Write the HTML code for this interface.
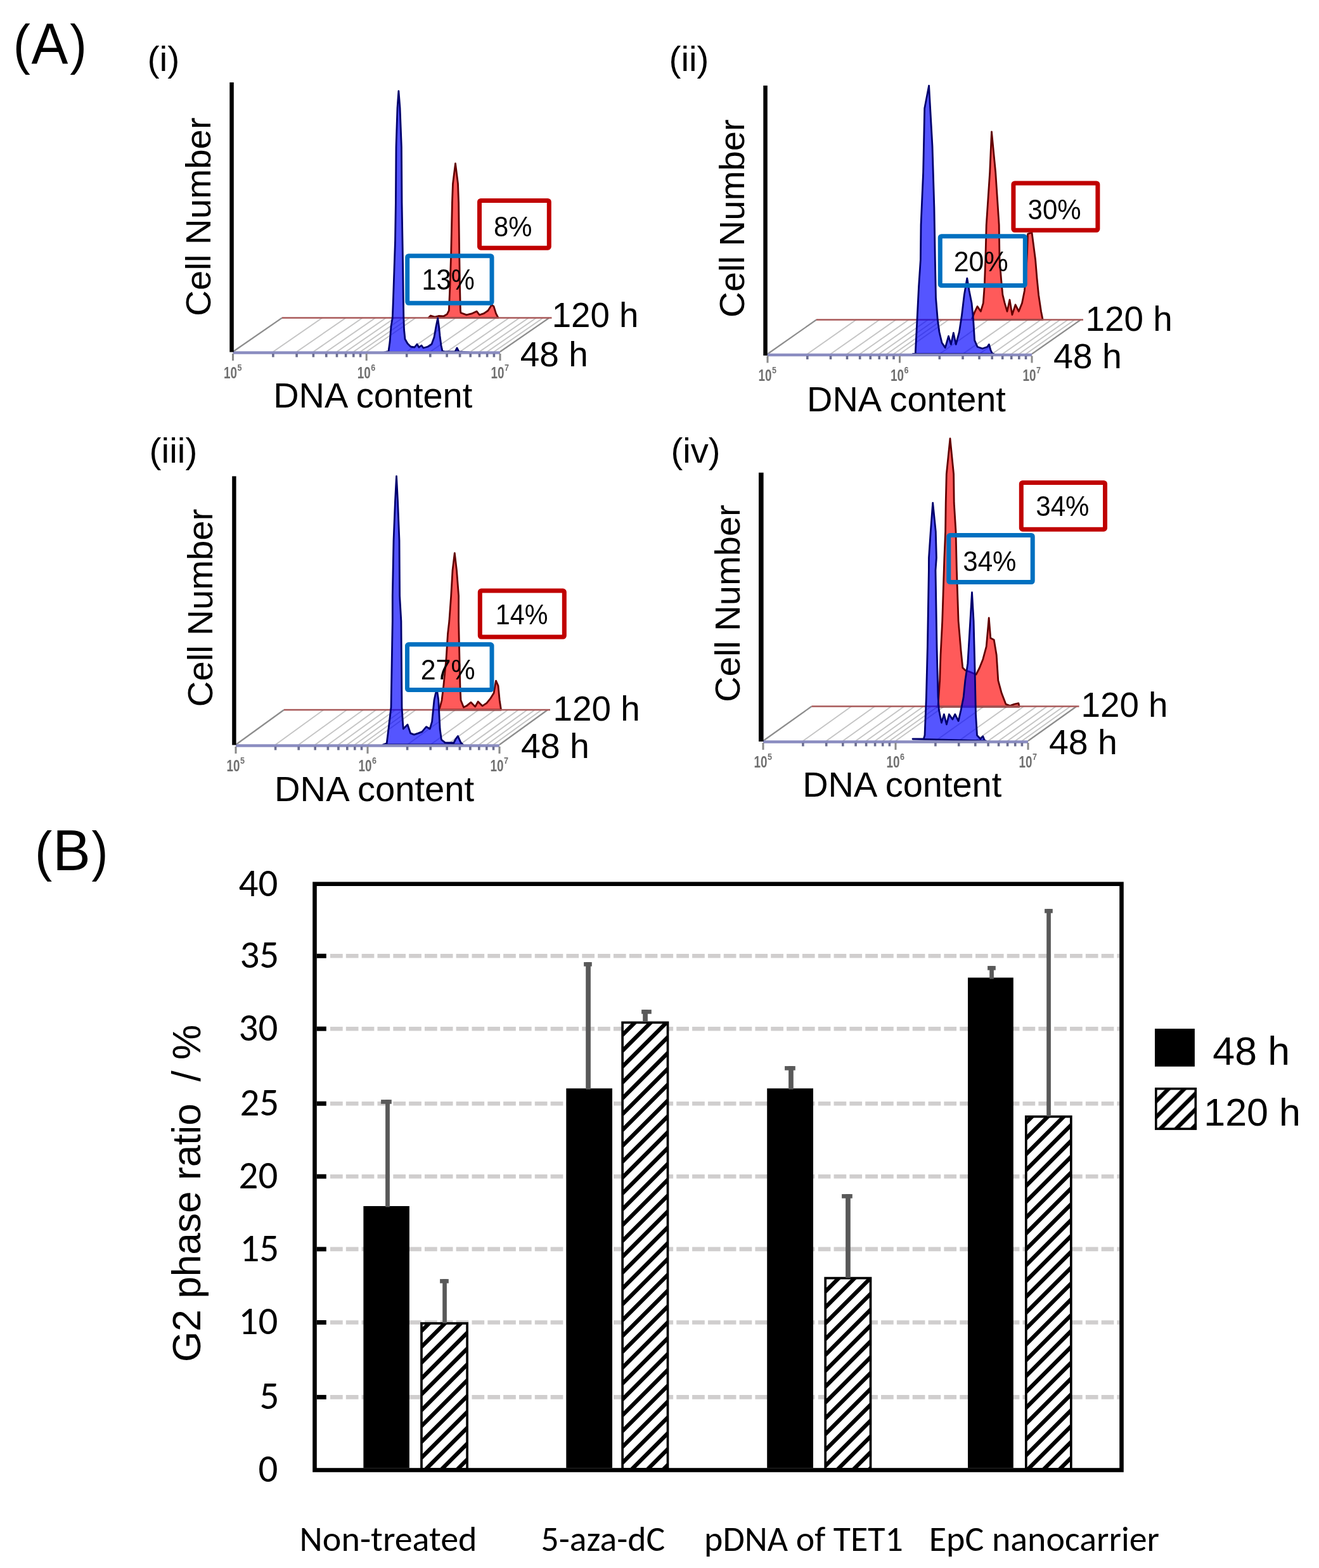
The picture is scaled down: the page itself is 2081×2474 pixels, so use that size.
<!DOCTYPE html>
<html><head><meta charset="utf-8"><title>Figure</title>
<style>html,body{margin:0;padding:0;background:#fff;}svg{display:block;}</style></head>
<body><svg width="2081" height="2474" viewBox="0 0 2081 2474">
<rect x="0" y="0" width="2081" height="2474" fill="#fff"/>
<text transform="translate(0 99.8) scale(1 1.0642)" x="20.8" y="0" font-family="'Liberation Sans', Arial, Helvetica, sans-serif" font-size="81.52" fill="#000">(</text>
<text transform="translate(0 99.8) scale(1 1.0541)" x="49.5" y="0" font-family="'Liberation Sans', Arial, Helvetica, sans-serif" font-size="86.79" fill="#000">A</text>
<text transform="translate(0 99.8) scale(1 1.0845)" x="110.2" y="0" font-family="'Liberation Sans', Arial, Helvetica, sans-serif" font-size="80.00" fill="#000">)</text>
<text x="232.5" y="111.9" font-family="'Liberation Sans', Arial, Helvetica, sans-serif" font-size="54.69" fill="#000" textLength="51.0" lengthAdjust="spacingAndGlyphs">(i)</text>
<text x="1055.6" y="111.7" font-family="'Liberation Sans', Arial, Helvetica, sans-serif" font-size="54.58" fill="#000" textLength="62.9" lengthAdjust="spacingAndGlyphs">(ii)</text>
<text x="235.6" y="729.9" font-family="'Liberation Sans', Arial, Helvetica, sans-serif" font-size="54.69" fill="#000" textLength="75.8" lengthAdjust="spacingAndGlyphs">(iii)</text>
<text x="1058.5" y="729.9" font-family="'Liberation Sans', Arial, Helvetica, sans-serif" font-size="54.69" fill="#000" textLength="78.0" lengthAdjust="spacingAndGlyphs">(iv)</text>
<line x1="430.9" y1="555.0" x2="508.4" y2="501.5" stroke="#c4c4c4" stroke-width="1.9"/>
<line x1="468.1" y1="555.0" x2="545.6" y2="501.5" stroke="#c4c4c4" stroke-width="1.9"/>
<line x1="494.4" y1="555.0" x2="571.9" y2="501.5" stroke="#c4c4c4" stroke-width="1.9"/>
<line x1="514.8" y1="555.0" x2="592.3" y2="501.5" stroke="#c4c4c4" stroke-width="1.9"/>
<line x1="531.5" y1="555.0" x2="609.0" y2="501.5" stroke="#c4c4c4" stroke-width="1.9"/>
<line x1="545.6" y1="555.0" x2="623.1" y2="501.5" stroke="#c4c4c4" stroke-width="1.9"/>
<line x1="557.8" y1="555.0" x2="635.3" y2="501.5" stroke="#c4c4c4" stroke-width="1.9"/>
<line x1="568.6" y1="555.0" x2="646.1" y2="501.5" stroke="#c4c4c4" stroke-width="1.9"/>
<line x1="578.2" y1="555.0" x2="655.8" y2="501.5" stroke="#c4c4c4" stroke-width="1.9"/>
<line x1="641.7" y1="555.0" x2="719.2" y2="501.5" stroke="#c4c4c4" stroke-width="1.9"/>
<line x1="678.8" y1="555.0" x2="756.3" y2="501.5" stroke="#c4c4c4" stroke-width="1.9"/>
<line x1="705.1" y1="555.0" x2="782.6" y2="501.5" stroke="#c4c4c4" stroke-width="1.9"/>
<line x1="725.6" y1="555.0" x2="803.1" y2="501.5" stroke="#c4c4c4" stroke-width="1.9"/>
<line x1="742.2" y1="555.0" x2="819.7" y2="501.5" stroke="#c4c4c4" stroke-width="1.9"/>
<line x1="756.4" y1="555.0" x2="833.9" y2="501.5" stroke="#c4c4c4" stroke-width="1.9"/>
<line x1="768.6" y1="555.0" x2="846.1" y2="501.5" stroke="#c4c4c4" stroke-width="1.9"/>
<line x1="779.4" y1="555.0" x2="856.9" y2="501.5" stroke="#c4c4c4" stroke-width="1.9"/>
<line x1="367.5" y1="555.0" x2="445.0" y2="501.5" stroke="#8c8c8c" stroke-width="2.2"/>
<line x1="789.0" y1="555.0" x2="866.5" y2="501.5" stroke="#8c8c8c" stroke-width="2.2"/>
<path d="M676.0,501.4 L679.4,498.0 L686.0,500.0 L692.0,498.5 L699.8,499.0 L705.4,495.7 L708.3,490.0 L710.0,450.0 L711.7,399.4 L713.4,320.0 L714.5,290.0 L718.5,258.0 L722.5,290.0 L723.6,320.0 L724.7,399.4 L725.5,450.0 L726.4,490.0 L727.0,493.5 L736.0,496.9 L745.0,494.6 L752.0,491.2 L756.5,496.9 L763.3,494.6 L770.0,490.0 L775.7,481.0 L779.0,483.3 L782.5,494.6 L786.0,501.4 Z" fill="#ff5a5a" stroke="#640000" stroke-width="2.8" stroke-linejoin="round"/>
<line x1="445.0" y1="501.5" x2="870.5" y2="501.5" stroke="#a85858" stroke-width="2.6"/>
<path d="M606.0,556.0 L613.0,554.0 L615.0,540.0 L617.0,515.0 L619.3,501.0 L620.5,470.0 L622.1,422.0 L623.5,380.0 L624.4,320.0 L625.0,232.0 L627.0,170.0 L628.9,143.6 L631.0,170.0 L633.4,232.0 L634.0,320.0 L635.0,380.0 L635.7,422.0 L636.3,470.0 L636.8,501.0 L637.5,520.0 L639.0,535.0 L643.0,542.0 L648.0,547.0 L654.0,548.0 L658.0,543.0 L661.0,548.0 L665.0,545.0 L668.0,549.0 L675.0,547.0 L681.0,543.0 L685.0,532.0 L688.0,515.0 L690.7,502.0 L692.5,515.0 L694.0,530.0 L696.0,545.0 L698.0,554.0 L703.0,555.0 L718.0,555.0 L721.0,549.0 L724.0,555.0 L740.0,556.0 Z" fill="#0000ff" stroke="#00006e" stroke-width="2.8" stroke-linejoin="round" fill-opacity="0.667"/>
<line x1="367.5" y1="556.5" x2="789.0" y2="556.5" stroke="#8a8cc0" stroke-width="4.5"/>
<line x1="367.5" y1="558.0" x2="367.5" y2="569.0" stroke="#8a8a8a" stroke-width="3"/>
<line x1="430.9" y1="558.0" x2="430.9" y2="563.5" stroke="#6c6e90" stroke-width="3.6"/>
<line x1="468.1" y1="558.0" x2="468.1" y2="563.5" stroke="#6c6e90" stroke-width="3.6"/>
<line x1="494.4" y1="558.0" x2="494.4" y2="563.5" stroke="#6c6e90" stroke-width="3.6"/>
<line x1="514.8" y1="558.0" x2="514.8" y2="563.5" stroke="#6c6e90" stroke-width="3.6"/>
<line x1="531.5" y1="558.0" x2="531.5" y2="563.5" stroke="#6c6e90" stroke-width="3.6"/>
<line x1="545.6" y1="558.0" x2="545.6" y2="563.5" stroke="#6c6e90" stroke-width="3.6"/>
<line x1="557.8" y1="558.0" x2="557.8" y2="563.5" stroke="#6c6e90" stroke-width="3.6"/>
<line x1="568.6" y1="558.0" x2="568.6" y2="563.5" stroke="#6c6e90" stroke-width="3.6"/>
<line x1="578.2" y1="558.0" x2="578.2" y2="569.0" stroke="#8a8a8a" stroke-width="3"/>
<line x1="641.7" y1="558.0" x2="641.7" y2="563.5" stroke="#6c6e90" stroke-width="3.6"/>
<line x1="678.8" y1="558.0" x2="678.8" y2="563.5" stroke="#6c6e90" stroke-width="3.6"/>
<line x1="705.1" y1="558.0" x2="705.1" y2="563.5" stroke="#6c6e90" stroke-width="3.6"/>
<line x1="725.6" y1="558.0" x2="725.6" y2="563.5" stroke="#6c6e90" stroke-width="3.6"/>
<line x1="742.2" y1="558.0" x2="742.2" y2="563.5" stroke="#6c6e90" stroke-width="3.6"/>
<line x1="756.4" y1="558.0" x2="756.4" y2="563.5" stroke="#6c6e90" stroke-width="3.6"/>
<line x1="768.6" y1="558.0" x2="768.6" y2="563.5" stroke="#6c6e90" stroke-width="3.6"/>
<line x1="779.4" y1="558.0" x2="779.4" y2="563.5" stroke="#6c6e90" stroke-width="3.6"/>
<line x1="789.0" y1="558.0" x2="789.0" y2="569.0" stroke="#8a8a8a" stroke-width="3"/>
<text x="353.0" y="597.0" font-family="'Liberation Sans', Arial, Helvetica, sans-serif" font-size="26" font-weight="bold" fill="#707070" textLength="21" lengthAdjust="spacingAndGlyphs">10</text>
<text x="374.5" y="585.0" font-family="'Liberation Sans', Arial, Helvetica, sans-serif" font-size="14" font-weight="bold" fill="#707070" textLength="7" lengthAdjust="spacingAndGlyphs">5</text>
<text x="563.8" y="597.0" font-family="'Liberation Sans', Arial, Helvetica, sans-serif" font-size="26" font-weight="bold" fill="#707070" textLength="21" lengthAdjust="spacingAndGlyphs">10</text>
<text x="585.2" y="585.0" font-family="'Liberation Sans', Arial, Helvetica, sans-serif" font-size="14" font-weight="bold" fill="#707070" textLength="7" lengthAdjust="spacingAndGlyphs">6</text>
<text x="774.5" y="597.0" font-family="'Liberation Sans', Arial, Helvetica, sans-serif" font-size="26" font-weight="bold" fill="#707070" textLength="21" lengthAdjust="spacingAndGlyphs">10</text>
<text x="796.0" y="585.0" font-family="'Liberation Sans', Arial, Helvetica, sans-serif" font-size="14" font-weight="bold" fill="#707070" textLength="7" lengthAdjust="spacingAndGlyphs">7</text>
<rect x="362.3" y="130.0" width="6.5" height="425.5" fill="#000"/>
<rect x="756.5" y="316.5" width="109.8" height="74.7" rx="2" fill="none" stroke="#c00000" stroke-width="7"/>
<rect x="642.7" y="403.7" width="133.3" height="74.6" rx="2" fill="none" stroke="#0070c0" stroke-width="7"/>
<line x1="1273.8" y1="558.5" x2="1350.8" y2="504.5" stroke="#c4c4c4" stroke-width="1.9"/>
<line x1="1310.5" y1="558.5" x2="1387.5" y2="504.5" stroke="#c4c4c4" stroke-width="1.9"/>
<line x1="1336.5" y1="558.5" x2="1413.5" y2="504.5" stroke="#c4c4c4" stroke-width="1.9"/>
<line x1="1356.7" y1="558.5" x2="1433.7" y2="504.5" stroke="#c4c4c4" stroke-width="1.9"/>
<line x1="1373.2" y1="558.5" x2="1450.2" y2="504.5" stroke="#c4c4c4" stroke-width="1.9"/>
<line x1="1387.2" y1="558.5" x2="1464.2" y2="504.5" stroke="#c4c4c4" stroke-width="1.9"/>
<line x1="1399.3" y1="558.5" x2="1476.3" y2="504.5" stroke="#c4c4c4" stroke-width="1.9"/>
<line x1="1410.0" y1="558.5" x2="1487.0" y2="504.5" stroke="#c4c4c4" stroke-width="1.9"/>
<line x1="1419.5" y1="558.5" x2="1496.5" y2="504.5" stroke="#c4c4c4" stroke-width="1.9"/>
<line x1="1482.3" y1="558.5" x2="1559.3" y2="504.5" stroke="#c4c4c4" stroke-width="1.9"/>
<line x1="1519.0" y1="558.5" x2="1596.0" y2="504.5" stroke="#c4c4c4" stroke-width="1.9"/>
<line x1="1545.0" y1="558.5" x2="1622.0" y2="504.5" stroke="#c4c4c4" stroke-width="1.9"/>
<line x1="1565.2" y1="558.5" x2="1642.2" y2="504.5" stroke="#c4c4c4" stroke-width="1.9"/>
<line x1="1581.7" y1="558.5" x2="1658.7" y2="504.5" stroke="#c4c4c4" stroke-width="1.9"/>
<line x1="1595.7" y1="558.5" x2="1672.7" y2="504.5" stroke="#c4c4c4" stroke-width="1.9"/>
<line x1="1607.8" y1="558.5" x2="1684.8" y2="504.5" stroke="#c4c4c4" stroke-width="1.9"/>
<line x1="1618.5" y1="558.5" x2="1695.5" y2="504.5" stroke="#c4c4c4" stroke-width="1.9"/>
<line x1="1211.0" y1="558.5" x2="1288.0" y2="504.5" stroke="#8c8c8c" stroke-width="2.2"/>
<line x1="1628.0" y1="558.5" x2="1705.0" y2="504.5" stroke="#8c8c8c" stroke-width="2.2"/>
<path d="M1533.0,504.3 L1538.2,491.3 L1542.1,483.4 L1547.3,491.3 L1551.3,478.2 L1553.2,452.2 L1554.8,410.0 L1556.2,355.0 L1561.7,272.0 L1564.5,207.8 L1570.7,272.0 L1576.2,355.0 L1577.0,410.0 L1579.5,440.0 L1581.9,465.2 L1585.1,478.2 L1589.0,491.3 L1593.0,473.0 L1596.9,496.5 L1602.1,480.8 L1607.3,491.3 L1612.5,478.2 L1616.4,458.7 L1619.0,426.0 L1620.5,400.0 L1621.5,369.0 L1628.0,367.0 L1633.6,410.0 L1636.0,439.0 L1638.6,465.2 L1642.5,491.3 L1645.1,504.3 Z" fill="#ff5a5a" stroke="#640000" stroke-width="2.8" stroke-linejoin="round"/>
<line x1="1288.0" y1="504.5" x2="1709.0" y2="504.5" stroke="#a85858" stroke-width="2.6"/>
<path d="M1440.0,558.5 L1444.3,557.0 L1447.0,504.0 L1449.6,452.0 L1452.4,410.0 L1453.0,355.0 L1456.6,272.0 L1458.7,171.0 L1465.6,135.2 L1471.0,230.6 L1473.9,327.5 L1475.3,410.0 L1476.5,470.0 L1479.3,504.3 L1482.0,524.0 L1486.0,540.8 L1491.3,548.6 L1496.5,530.4 L1500.4,543.4 L1504.3,525.2 L1508.2,543.4 L1513.4,523.9 L1517.4,497.8 L1521.3,465.2 L1525.8,439.1 L1529.1,458.7 L1533.0,478.2 L1535.6,504.3 L1537.6,536.9 L1542.1,547.3 L1550.0,550.0 L1557.8,547.3 L1560.4,543.4 L1563.0,552.5 L1565.6,557.8 L1568.0,558.5 Z" fill="#0000ff" stroke="#00006e" stroke-width="2.8" stroke-linejoin="round" fill-opacity="0.667"/>
<line x1="1211.0" y1="560.0" x2="1628.0" y2="560.0" stroke="#8a8cc0" stroke-width="4.5"/>
<line x1="1211.0" y1="561.5" x2="1211.0" y2="572.5" stroke="#8a8a8a" stroke-width="3"/>
<line x1="1273.8" y1="561.5" x2="1273.8" y2="567.0" stroke="#6c6e90" stroke-width="3.6"/>
<line x1="1310.5" y1="561.5" x2="1310.5" y2="567.0" stroke="#6c6e90" stroke-width="3.6"/>
<line x1="1336.5" y1="561.5" x2="1336.5" y2="567.0" stroke="#6c6e90" stroke-width="3.6"/>
<line x1="1356.7" y1="561.5" x2="1356.7" y2="567.0" stroke="#6c6e90" stroke-width="3.6"/>
<line x1="1373.2" y1="561.5" x2="1373.2" y2="567.0" stroke="#6c6e90" stroke-width="3.6"/>
<line x1="1387.2" y1="561.5" x2="1387.2" y2="567.0" stroke="#6c6e90" stroke-width="3.6"/>
<line x1="1399.3" y1="561.5" x2="1399.3" y2="567.0" stroke="#6c6e90" stroke-width="3.6"/>
<line x1="1410.0" y1="561.5" x2="1410.0" y2="567.0" stroke="#6c6e90" stroke-width="3.6"/>
<line x1="1419.5" y1="561.5" x2="1419.5" y2="572.5" stroke="#8a8a8a" stroke-width="3"/>
<line x1="1482.3" y1="561.5" x2="1482.3" y2="567.0" stroke="#6c6e90" stroke-width="3.6"/>
<line x1="1519.0" y1="561.5" x2="1519.0" y2="567.0" stroke="#6c6e90" stroke-width="3.6"/>
<line x1="1545.0" y1="561.5" x2="1545.0" y2="567.0" stroke="#6c6e90" stroke-width="3.6"/>
<line x1="1565.2" y1="561.5" x2="1565.2" y2="567.0" stroke="#6c6e90" stroke-width="3.6"/>
<line x1="1581.7" y1="561.5" x2="1581.7" y2="567.0" stroke="#6c6e90" stroke-width="3.6"/>
<line x1="1595.7" y1="561.5" x2="1595.7" y2="567.0" stroke="#6c6e90" stroke-width="3.6"/>
<line x1="1607.8" y1="561.5" x2="1607.8" y2="567.0" stroke="#6c6e90" stroke-width="3.6"/>
<line x1="1618.5" y1="561.5" x2="1618.5" y2="567.0" stroke="#6c6e90" stroke-width="3.6"/>
<line x1="1628.0" y1="561.5" x2="1628.0" y2="572.5" stroke="#8a8a8a" stroke-width="3"/>
<text x="1196.5" y="600.5" font-family="'Liberation Sans', Arial, Helvetica, sans-serif" font-size="26" font-weight="bold" fill="#707070" textLength="21" lengthAdjust="spacingAndGlyphs">10</text>
<text x="1218.0" y="588.5" font-family="'Liberation Sans', Arial, Helvetica, sans-serif" font-size="14" font-weight="bold" fill="#707070" textLength="7" lengthAdjust="spacingAndGlyphs">5</text>
<text x="1405.0" y="600.5" font-family="'Liberation Sans', Arial, Helvetica, sans-serif" font-size="26" font-weight="bold" fill="#707070" textLength="21" lengthAdjust="spacingAndGlyphs">10</text>
<text x="1426.5" y="588.5" font-family="'Liberation Sans', Arial, Helvetica, sans-serif" font-size="14" font-weight="bold" fill="#707070" textLength="7" lengthAdjust="spacingAndGlyphs">6</text>
<text x="1613.5" y="600.5" font-family="'Liberation Sans', Arial, Helvetica, sans-serif" font-size="26" font-weight="bold" fill="#707070" textLength="21" lengthAdjust="spacingAndGlyphs">10</text>
<text x="1635.0" y="588.5" font-family="'Liberation Sans', Arial, Helvetica, sans-serif" font-size="14" font-weight="bold" fill="#707070" textLength="7" lengthAdjust="spacingAndGlyphs">7</text>
<rect x="1204.3" y="135.0" width="6.5" height="426.0" fill="#000"/>
<rect x="1598.9" y="288.9" width="133.0" height="74.4" rx="2" fill="none" stroke="#c00000" stroke-width="7"/>
<rect x="1483.3" y="372.7" width="134.0" height="77.9" rx="2" fill="none" stroke="#0070c0" stroke-width="7"/>
<line x1="434.6" y1="1175.0" x2="510.6" y2="1120.0" stroke="#c4c4c4" stroke-width="1.9"/>
<line x1="471.2" y1="1175.0" x2="547.2" y2="1120.0" stroke="#c4c4c4" stroke-width="1.9"/>
<line x1="497.2" y1="1175.0" x2="573.2" y2="1120.0" stroke="#c4c4c4" stroke-width="1.9"/>
<line x1="517.4" y1="1175.0" x2="593.4" y2="1120.0" stroke="#c4c4c4" stroke-width="1.9"/>
<line x1="533.9" y1="1175.0" x2="609.9" y2="1120.0" stroke="#c4c4c4" stroke-width="1.9"/>
<line x1="547.8" y1="1175.0" x2="623.8" y2="1120.0" stroke="#c4c4c4" stroke-width="1.9"/>
<line x1="559.8" y1="1175.0" x2="635.8" y2="1120.0" stroke="#c4c4c4" stroke-width="1.9"/>
<line x1="570.5" y1="1175.0" x2="646.5" y2="1120.0" stroke="#c4c4c4" stroke-width="1.9"/>
<line x1="580.0" y1="1175.0" x2="656.0" y2="1120.0" stroke="#c4c4c4" stroke-width="1.9"/>
<line x1="642.6" y1="1175.0" x2="718.6" y2="1120.0" stroke="#c4c4c4" stroke-width="1.9"/>
<line x1="679.2" y1="1175.0" x2="755.2" y2="1120.0" stroke="#c4c4c4" stroke-width="1.9"/>
<line x1="705.2" y1="1175.0" x2="781.2" y2="1120.0" stroke="#c4c4c4" stroke-width="1.9"/>
<line x1="725.4" y1="1175.0" x2="801.4" y2="1120.0" stroke="#c4c4c4" stroke-width="1.9"/>
<line x1="741.9" y1="1175.0" x2="817.9" y2="1120.0" stroke="#c4c4c4" stroke-width="1.9"/>
<line x1="755.8" y1="1175.0" x2="831.8" y2="1120.0" stroke="#c4c4c4" stroke-width="1.9"/>
<line x1="767.8" y1="1175.0" x2="843.8" y2="1120.0" stroke="#c4c4c4" stroke-width="1.9"/>
<line x1="778.5" y1="1175.0" x2="854.5" y2="1120.0" stroke="#c4c4c4" stroke-width="1.9"/>
<line x1="372.0" y1="1175.0" x2="448.0" y2="1120.0" stroke="#8c8c8c" stroke-width="2.2"/>
<line x1="788.0" y1="1175.0" x2="864.0" y2="1120.0" stroke="#8c8c8c" stroke-width="2.2"/>
<path d="M692.0,1120.0 L694.1,1116.0 L697.0,1105.0 L699.8,1082.0 L704.0,1040.0 L706.5,1000.0 L708.8,980.0 L711.7,940.0 L714.0,900.0 L717.3,872.7 L720.5,900.0 L723.6,940.0 L723.6,980.0 L725.9,1082.0 L727.0,1104.7 L731.5,1116.0 L736.0,1113.8 L742.9,1108.1 L749.7,1115.0 L754.2,1107.0 L761.0,1113.8 L767.8,1109.3 L773.5,1102.4 L779.1,1093.4 L782.5,1074.1 L786.0,1082.0 L788.2,1104.7 L790.5,1120.0 Z" fill="#ff5a5a" stroke="#640000" stroke-width="2.8" stroke-linejoin="round"/>
<line x1="448.0" y1="1120.0" x2="868.0" y2="1120.0" stroke="#a85858" stroke-width="2.6"/>
<path d="M604.0,1175.0 L610.2,1172.7 L613.0,1150.0 L617.0,1116.0 L619.3,980.0 L619.3,940.0 L621.0,853.0 L623.5,790.0 L625.5,751.3 L627.5,790.0 L630.0,853.0 L630.6,940.0 L632.9,980.0 L634.0,1116.0 L635.5,1140.0 L636.3,1150.0 L643.0,1143.3 L647.6,1156.9 L653.3,1159.1 L660.0,1156.9 L665.8,1154.6 L672.6,1146.7 L678.2,1150.0 L681.6,1138.7 L685.0,1104.7 L687.3,1094.0 L689.5,1089.0 L691.8,1104.7 L694.1,1150.0 L696.4,1167.0 L702.0,1171.6 L716.0,1172.0 L719.0,1166.0 L722.4,1161.4 L727.0,1171.6 L730.4,1175.0 Z" fill="#0000ff" stroke="#00006e" stroke-width="2.8" stroke-linejoin="round" fill-opacity="0.667"/>
<line x1="372.0" y1="1176.5" x2="788.0" y2="1176.5" stroke="#8a8cc0" stroke-width="4.5"/>
<line x1="372.0" y1="1178.0" x2="372.0" y2="1189.0" stroke="#8a8a8a" stroke-width="3"/>
<line x1="434.6" y1="1178.0" x2="434.6" y2="1183.5" stroke="#6c6e90" stroke-width="3.6"/>
<line x1="471.2" y1="1178.0" x2="471.2" y2="1183.5" stroke="#6c6e90" stroke-width="3.6"/>
<line x1="497.2" y1="1178.0" x2="497.2" y2="1183.5" stroke="#6c6e90" stroke-width="3.6"/>
<line x1="517.4" y1="1178.0" x2="517.4" y2="1183.5" stroke="#6c6e90" stroke-width="3.6"/>
<line x1="533.9" y1="1178.0" x2="533.9" y2="1183.5" stroke="#6c6e90" stroke-width="3.6"/>
<line x1="547.8" y1="1178.0" x2="547.8" y2="1183.5" stroke="#6c6e90" stroke-width="3.6"/>
<line x1="559.8" y1="1178.0" x2="559.8" y2="1183.5" stroke="#6c6e90" stroke-width="3.6"/>
<line x1="570.5" y1="1178.0" x2="570.5" y2="1183.5" stroke="#6c6e90" stroke-width="3.6"/>
<line x1="580.0" y1="1178.0" x2="580.0" y2="1189.0" stroke="#8a8a8a" stroke-width="3"/>
<line x1="642.6" y1="1178.0" x2="642.6" y2="1183.5" stroke="#6c6e90" stroke-width="3.6"/>
<line x1="679.2" y1="1178.0" x2="679.2" y2="1183.5" stroke="#6c6e90" stroke-width="3.6"/>
<line x1="705.2" y1="1178.0" x2="705.2" y2="1183.5" stroke="#6c6e90" stroke-width="3.6"/>
<line x1="725.4" y1="1178.0" x2="725.4" y2="1183.5" stroke="#6c6e90" stroke-width="3.6"/>
<line x1="741.9" y1="1178.0" x2="741.9" y2="1183.5" stroke="#6c6e90" stroke-width="3.6"/>
<line x1="755.8" y1="1178.0" x2="755.8" y2="1183.5" stroke="#6c6e90" stroke-width="3.6"/>
<line x1="767.8" y1="1178.0" x2="767.8" y2="1183.5" stroke="#6c6e90" stroke-width="3.6"/>
<line x1="778.5" y1="1178.0" x2="778.5" y2="1183.5" stroke="#6c6e90" stroke-width="3.6"/>
<line x1="788.0" y1="1178.0" x2="788.0" y2="1189.0" stroke="#8a8a8a" stroke-width="3"/>
<text x="357.5" y="1217.0" font-family="'Liberation Sans', Arial, Helvetica, sans-serif" font-size="26" font-weight="bold" fill="#707070" textLength="21" lengthAdjust="spacingAndGlyphs">10</text>
<text x="379.0" y="1205.0" font-family="'Liberation Sans', Arial, Helvetica, sans-serif" font-size="14" font-weight="bold" fill="#707070" textLength="7" lengthAdjust="spacingAndGlyphs">5</text>
<text x="565.5" y="1217.0" font-family="'Liberation Sans', Arial, Helvetica, sans-serif" font-size="26" font-weight="bold" fill="#707070" textLength="21" lengthAdjust="spacingAndGlyphs">10</text>
<text x="587.0" y="1205.0" font-family="'Liberation Sans', Arial, Helvetica, sans-serif" font-size="14" font-weight="bold" fill="#707070" textLength="7" lengthAdjust="spacingAndGlyphs">6</text>
<text x="773.5" y="1217.0" font-family="'Liberation Sans', Arial, Helvetica, sans-serif" font-size="26" font-weight="bold" fill="#707070" textLength="21" lengthAdjust="spacingAndGlyphs">10</text>
<text x="795.0" y="1205.0" font-family="'Liberation Sans', Arial, Helvetica, sans-serif" font-size="14" font-weight="bold" fill="#707070" textLength="7" lengthAdjust="spacingAndGlyphs">7</text>
<rect x="366.2" y="751.4" width="6.4" height="424.1" fill="#000"/>
<rect x="757.3" y="932.1" width="133.0" height="73.0" rx="2" fill="none" stroke="#c00000" stroke-width="7"/>
<rect x="642.5" y="1016.8" width="133.5" height="71.7" rx="2" fill="none" stroke="#0070c0" stroke-width="7"/>
<line x1="1266.9" y1="1169.0" x2="1343.4" y2="1114.5" stroke="#c4c4c4" stroke-width="1.9"/>
<line x1="1303.7" y1="1169.0" x2="1380.2" y2="1114.5" stroke="#c4c4c4" stroke-width="1.9"/>
<line x1="1329.8" y1="1169.0" x2="1406.3" y2="1114.5" stroke="#c4c4c4" stroke-width="1.9"/>
<line x1="1350.1" y1="1169.0" x2="1426.6" y2="1114.5" stroke="#c4c4c4" stroke-width="1.9"/>
<line x1="1366.6" y1="1169.0" x2="1443.1" y2="1114.5" stroke="#c4c4c4" stroke-width="1.9"/>
<line x1="1380.6" y1="1169.0" x2="1457.1" y2="1114.5" stroke="#c4c4c4" stroke-width="1.9"/>
<line x1="1392.7" y1="1169.0" x2="1469.2" y2="1114.5" stroke="#c4c4c4" stroke-width="1.9"/>
<line x1="1403.4" y1="1169.0" x2="1479.9" y2="1114.5" stroke="#c4c4c4" stroke-width="1.9"/>
<line x1="1413.0" y1="1169.0" x2="1489.5" y2="1114.5" stroke="#c4c4c4" stroke-width="1.9"/>
<line x1="1475.9" y1="1169.0" x2="1552.4" y2="1114.5" stroke="#c4c4c4" stroke-width="1.9"/>
<line x1="1512.7" y1="1169.0" x2="1589.2" y2="1114.5" stroke="#c4c4c4" stroke-width="1.9"/>
<line x1="1538.8" y1="1169.0" x2="1615.3" y2="1114.5" stroke="#c4c4c4" stroke-width="1.9"/>
<line x1="1559.1" y1="1169.0" x2="1635.6" y2="1114.5" stroke="#c4c4c4" stroke-width="1.9"/>
<line x1="1575.6" y1="1169.0" x2="1652.1" y2="1114.5" stroke="#c4c4c4" stroke-width="1.9"/>
<line x1="1589.6" y1="1169.0" x2="1666.1" y2="1114.5" stroke="#c4c4c4" stroke-width="1.9"/>
<line x1="1601.7" y1="1169.0" x2="1678.2" y2="1114.5" stroke="#c4c4c4" stroke-width="1.9"/>
<line x1="1612.4" y1="1169.0" x2="1688.9" y2="1114.5" stroke="#c4c4c4" stroke-width="1.9"/>
<line x1="1204.0" y1="1169.0" x2="1280.5" y2="1114.5" stroke="#8c8c8c" stroke-width="2.2"/>
<line x1="1622.0" y1="1169.0" x2="1698.5" y2="1114.5" stroke="#8c8c8c" stroke-width="2.2"/>
<path d="M1478.0,1115.0 L1480.0,1113.6 L1482.7,1073.6 L1484.0,1033.5 L1486.7,980.0 L1489.9,880.0 L1491.6,838.7 L1492.2,793.4 L1493.3,748.0 L1499.0,691.9 L1504.6,748.0 L1505.2,793.4 L1508.0,838.7 L1509.4,900.0 L1512.1,980.0 L1516.1,1026.8 L1518.8,1053.5 L1522.8,1057.5 L1530.0,1060.0 L1540.1,1064.2 L1545.5,1053.5 L1550.8,1040.2 L1556.2,1020.2 L1560.2,974.8 L1562.8,1006.8 L1568.2,1009.5 L1572.2,1033.5 L1574.8,1073.6 L1580.2,1093.6 L1586.9,1111.0 L1593.5,1113.6 L1600.2,1111.0 L1606.9,1109.6 L1608.2,1115.0 Z" fill="#ff5a5a" stroke="#640000" stroke-width="2.8" stroke-linejoin="round"/>
<line x1="1280.5" y1="1114.5" x2="1702.5" y2="1114.5" stroke="#a85858" stroke-width="2.6"/>
<path d="M1440.0,1166.0 L1457.4,1165.7 L1459.0,1160.0 L1461.4,1100.0 L1463.4,1020.0 L1465.4,900.0 L1465.5,880.0 L1468.3,838.7 L1471.7,793.4 L1476.3,838.7 L1477.4,880.0 L1476.0,900.0 L1478.0,1020.0 L1480.0,1100.0 L1481.4,1120.3 L1485.4,1140.3 L1489.4,1127.0 L1493.4,1143.0 L1497.4,1127.0 L1502.8,1135.0 L1506.8,1127.0 L1512.1,1137.6 L1516.1,1120.3 L1520.1,1100.3 L1522.8,1073.6 L1526.8,1046.9 L1530.8,980.0 L1533.5,934.7 L1536.1,980.0 L1538.1,1060.2 L1539.5,1127.0 L1541.5,1160.3 L1546.8,1165.7 L1550.8,1161.7 L1553.5,1168.4 L1556.0,1169.0 Z" fill="#0000ff" stroke="#00006e" stroke-width="2.8" stroke-linejoin="round" fill-opacity="0.667"/>
<line x1="1204.0" y1="1170.5" x2="1622.0" y2="1170.5" stroke="#8a8cc0" stroke-width="4.5"/>
<line x1="1204.0" y1="1172.0" x2="1204.0" y2="1183.0" stroke="#8a8a8a" stroke-width="3"/>
<line x1="1266.9" y1="1172.0" x2="1266.9" y2="1177.5" stroke="#6c6e90" stroke-width="3.6"/>
<line x1="1303.7" y1="1172.0" x2="1303.7" y2="1177.5" stroke="#6c6e90" stroke-width="3.6"/>
<line x1="1329.8" y1="1172.0" x2="1329.8" y2="1177.5" stroke="#6c6e90" stroke-width="3.6"/>
<line x1="1350.1" y1="1172.0" x2="1350.1" y2="1177.5" stroke="#6c6e90" stroke-width="3.6"/>
<line x1="1366.6" y1="1172.0" x2="1366.6" y2="1177.5" stroke="#6c6e90" stroke-width="3.6"/>
<line x1="1380.6" y1="1172.0" x2="1380.6" y2="1177.5" stroke="#6c6e90" stroke-width="3.6"/>
<line x1="1392.7" y1="1172.0" x2="1392.7" y2="1177.5" stroke="#6c6e90" stroke-width="3.6"/>
<line x1="1403.4" y1="1172.0" x2="1403.4" y2="1177.5" stroke="#6c6e90" stroke-width="3.6"/>
<line x1="1413.0" y1="1172.0" x2="1413.0" y2="1183.0" stroke="#8a8a8a" stroke-width="3"/>
<line x1="1475.9" y1="1172.0" x2="1475.9" y2="1177.5" stroke="#6c6e90" stroke-width="3.6"/>
<line x1="1512.7" y1="1172.0" x2="1512.7" y2="1177.5" stroke="#6c6e90" stroke-width="3.6"/>
<line x1="1538.8" y1="1172.0" x2="1538.8" y2="1177.5" stroke="#6c6e90" stroke-width="3.6"/>
<line x1="1559.1" y1="1172.0" x2="1559.1" y2="1177.5" stroke="#6c6e90" stroke-width="3.6"/>
<line x1="1575.6" y1="1172.0" x2="1575.6" y2="1177.5" stroke="#6c6e90" stroke-width="3.6"/>
<line x1="1589.6" y1="1172.0" x2="1589.6" y2="1177.5" stroke="#6c6e90" stroke-width="3.6"/>
<line x1="1601.7" y1="1172.0" x2="1601.7" y2="1177.5" stroke="#6c6e90" stroke-width="3.6"/>
<line x1="1612.4" y1="1172.0" x2="1612.4" y2="1177.5" stroke="#6c6e90" stroke-width="3.6"/>
<line x1="1622.0" y1="1172.0" x2="1622.0" y2="1183.0" stroke="#8a8a8a" stroke-width="3"/>
<text x="1189.5" y="1211.0" font-family="'Liberation Sans', Arial, Helvetica, sans-serif" font-size="26" font-weight="bold" fill="#707070" textLength="21" lengthAdjust="spacingAndGlyphs">10</text>
<text x="1211.0" y="1199.0" font-family="'Liberation Sans', Arial, Helvetica, sans-serif" font-size="14" font-weight="bold" fill="#707070" textLength="7" lengthAdjust="spacingAndGlyphs">5</text>
<text x="1398.5" y="1211.0" font-family="'Liberation Sans', Arial, Helvetica, sans-serif" font-size="26" font-weight="bold" fill="#707070" textLength="21" lengthAdjust="spacingAndGlyphs">10</text>
<text x="1420.0" y="1199.0" font-family="'Liberation Sans', Arial, Helvetica, sans-serif" font-size="14" font-weight="bold" fill="#707070" textLength="7" lengthAdjust="spacingAndGlyphs">6</text>
<text x="1607.5" y="1211.0" font-family="'Liberation Sans', Arial, Helvetica, sans-serif" font-size="26" font-weight="bold" fill="#707070" textLength="21" lengthAdjust="spacingAndGlyphs">10</text>
<text x="1629.0" y="1199.0" font-family="'Liberation Sans', Arial, Helvetica, sans-serif" font-size="14" font-weight="bold" fill="#707070" textLength="7" lengthAdjust="spacingAndGlyphs">7</text>
<rect x="1197.0" y="745.7" width="7.6" height="424.3" fill="#000"/>
<rect x="1611.3" y="761.5" width="132.2" height="73.7" rx="2" fill="none" stroke="#c00000" stroke-width="7"/>
<rect x="1496.8" y="844.5" width="132.4" height="74.0" rx="2" fill="none" stroke="#0070c0" stroke-width="7"/>
<text transform="translate(332.2 498.7) rotate(-90)" x="0" y="0" font-family="'Liberation Sans', Arial, Helvetica, sans-serif" font-size="56.39" fill="#000" textLength="313.4" lengthAdjust="spacingAndGlyphs" xml:space="preserve">Cell Number</text>
<text transform="translate(0 372.5) scale(1 1.0488)" x="779.1" y="0" font-family="'Liberation Sans', Arial, Helvetica, sans-serif" font-size="41.83" fill="#000">8%</text>
<text transform="translate(0 457.0) scale(1 1.0866)" x="665.4" y="0" font-family="'Liberation Sans', Arial, Helvetica, sans-serif" font-size="41.69" fill="#000">13%</text>
<text x="870.7" y="515.9" font-family="'Liberation Sans', Arial, Helvetica, sans-serif" font-size="54.65" fill="#000" textLength="136.8" lengthAdjust="spacingAndGlyphs">120 h</text>
<text x="820.8" y="577.8" font-family="'Liberation Sans', Arial, Helvetica, sans-serif" font-size="54.91" fill="#000" textLength="106.9" lengthAdjust="spacingAndGlyphs">48 h</text>
<text x="431.2" y="642.6" font-family="'Liberation Sans', Arial, Helvetica, sans-serif" font-size="55.93" fill="#000" textLength="314.0" lengthAdjust="spacingAndGlyphs">DNA content</text>
<text transform="translate(1174.0 501.0) rotate(-90)" x="0" y="0" font-family="'Liberation Sans', Arial, Helvetica, sans-serif" font-size="56.29" fill="#000" textLength="312.8" lengthAdjust="spacingAndGlyphs" xml:space="preserve">Cell Number</text>
<text transform="translate(0 345.6) scale(1 1.0384)" x="1621.6" y="0" font-family="'Liberation Sans', Arial, Helvetica, sans-serif" font-size="41.97" fill="#000">30%</text>
<text transform="translate(0 428.4) scale(1 1.0221)" x="1504.7" y="0" font-family="'Liberation Sans', Arial, Helvetica, sans-serif" font-size="42.92" fill="#000">20%</text>
<text x="1712.6" y="521.8" font-family="'Liberation Sans', Arial, Helvetica, sans-serif" font-size="54.81" fill="#000" textLength="137.2" lengthAdjust="spacingAndGlyphs">120 h</text>
<text x="1661.9" y="580.7" font-family="'Liberation Sans', Arial, Helvetica, sans-serif" font-size="55.40" fill="#000" textLength="107.8" lengthAdjust="spacingAndGlyphs">48 h</text>
<text x="1273.1" y="648.6" font-family="'Liberation Sans', Arial, Helvetica, sans-serif" font-size="55.89" fill="#000" textLength="313.8" lengthAdjust="spacingAndGlyphs">DNA content</text>
<text transform="translate(335.0 1115.2) rotate(-90)" x="0" y="0" font-family="'Liberation Sans', Arial, Helvetica, sans-serif" font-size="56.24" fill="#000" textLength="312.5" lengthAdjust="spacingAndGlyphs" xml:space="preserve">Cell Number</text>
<text transform="translate(0 984.8) scale(1 1.0794)" x="781.7" y="0" font-family="'Liberation Sans', Arial, Helvetica, sans-serif" font-size="41.32" fill="#000">14%</text>
<text transform="translate(0 1072.2) scale(1 1.0354)" x="663.7" y="0" font-family="'Liberation Sans', Arial, Helvetica, sans-serif" font-size="42.92" fill="#000">27%</text>
<text x="872.6" y="1136.8" font-family="'Liberation Sans', Arial, Helvetica, sans-serif" font-size="54.81" fill="#000" textLength="137.2" lengthAdjust="spacingAndGlyphs">120 h</text>
<text x="821.9" y="1195.7" font-family="'Liberation Sans', Arial, Helvetica, sans-serif" font-size="55.40" fill="#000" textLength="107.8" lengthAdjust="spacingAndGlyphs">48 h</text>
<text x="433.1" y="1263.6" font-family="'Liberation Sans', Arial, Helvetica, sans-serif" font-size="56.11" fill="#000" textLength="315.0" lengthAdjust="spacingAndGlyphs">DNA content</text>
<text transform="translate(1167.0 1107.8) rotate(-90)" x="0" y="0" font-family="'Liberation Sans', Arial, Helvetica, sans-serif" font-size="56.08" fill="#000" textLength="311.6" lengthAdjust="spacingAndGlyphs" xml:space="preserve">Cell Number</text>
<text transform="translate(0 813.5) scale(1 1.0393)" x="1634.3" y="0" font-family="'Liberation Sans', Arial, Helvetica, sans-serif" font-size="42.08" fill="#000">34%</text>
<text transform="translate(0 900.5) scale(1 1.0393)" x="1519.3" y="0" font-family="'Liberation Sans', Arial, Helvetica, sans-serif" font-size="42.08" fill="#000">34%</text>
<text x="1705.5" y="1131.0" font-family="'Liberation Sans', Arial, Helvetica, sans-serif" font-size="54.77" fill="#000" textLength="137.1" lengthAdjust="spacingAndGlyphs">120 h</text>
<text x="1654.9" y="1189.9" font-family="'Liberation Sans', Arial, Helvetica, sans-serif" font-size="55.40" fill="#000" textLength="107.8" lengthAdjust="spacingAndGlyphs">48 h</text>
<text x="1266.2" y="1257.4" font-family="'Liberation Sans', Arial, Helvetica, sans-serif" font-size="55.93" fill="#000" textLength="314.0" lengthAdjust="spacingAndGlyphs">DNA content</text>
<text transform="translate(0 1373.0) scale(1 1.0694)" x="55.0" y="0" font-family="'Liberation Sans', Arial, Helvetica, sans-serif" font-size="81.90" fill="#000">(</text>
<text transform="translate(0 1373.0) scale(1 1.0268)" x="83.3" y="0" font-family="'Liberation Sans', Arial, Helvetica, sans-serif" font-size="89.39" fill="#000">B</text>
<text transform="translate(0 1373.0) scale(1 1.1270)" x="144.5" y="0" font-family="'Liberation Sans', Arial, Helvetica, sans-serif" font-size="77.71" fill="#000">)</text>
<line x1="521.0" y1="1508.3" x2="1766" y2="1508.3" stroke="#d0cece" stroke-width="6.6" stroke-dasharray="19.7 5.13"/>
<line x1="521.0" y1="1623.2" x2="1766" y2="1623.2" stroke="#d0cece" stroke-width="6.6" stroke-dasharray="19.7 5.13"/>
<line x1="521.0" y1="1741.2" x2="1766" y2="1741.2" stroke="#d0cece" stroke-width="6.6" stroke-dasharray="19.7 5.13"/>
<line x1="521.0" y1="1856.2" x2="1766" y2="1856.2" stroke="#d0cece" stroke-width="6.6" stroke-dasharray="19.7 5.13"/>
<line x1="521.0" y1="1970.9" x2="1766" y2="1970.9" stroke="#d0cece" stroke-width="6.6" stroke-dasharray="19.7 5.13"/>
<line x1="521.0" y1="2086.5" x2="1766" y2="2086.5" stroke="#d0cece" stroke-width="6.6" stroke-dasharray="19.7 5.13"/>
<line x1="521.0" y1="2204.4" x2="1766" y2="2204.4" stroke="#d0cece" stroke-width="6.6" stroke-dasharray="19.7 5.13"/>
<defs><pattern id="hatch" patternUnits="userSpaceOnUse" width="25" height="25" x="0" y="0"><rect width="25" height="25" fill="#fff"/><path d="M-5,20 L20,-5 M-5,45 L45,-5 M20,45 L45,20" stroke="#000" stroke-width="6.3"/></pattern><pattern id="hatch2" patternUnits="userSpaceOnUse" width="25" height="25" x="-3.4" y="0"><rect width="25" height="25" fill="#fff"/><path d="M-5,20 L20,-5 M-5,45 L45,-5 M20,45 L45,20" stroke="#000" stroke-width="6.3"/></pattern></defs>
<rect x="573.4" y="1903.0" width="72.5" height="413.2" fill="#000"/>
<rect x="665.0" y="2088.0" width="72.1" height="230.2" fill="url(#hatch)" stroke="#000" stroke-width="3.7"/>
<rect x="893.3" y="1717.3" width="72.7" height="598.9" fill="#000"/>
<rect x="982.1" y="1613.4" width="71.4" height="704.7" fill="url(#hatch)" stroke="#000" stroke-width="3.7"/>
<rect x="1210.2" y="1717.3" width="72.8" height="598.9" fill="#000"/>
<rect x="1302.2" y="2016.6" width="71.3" height="301.5" fill="url(#hatch)" stroke="#000" stroke-width="3.7"/>
<rect x="1527.0" y="1542.5" width="71.8" height="773.7" fill="#000"/>
<rect x="1618.8" y="1761.8" width="71.0" height="556.4" fill="url(#hatch)" stroke="#000" stroke-width="3.7"/>
<rect x="608.1" y="1735.1" width="6.8" height="169.4" fill="#595959"/>
<rect x="601.1" y="1735.1" width="16.7" height="6.6" fill="#595959"/>
<rect x="698.2" y="2018.1" width="6.7" height="69.6" fill="#595959"/>
<rect x="694.1" y="2018.1" width="13.7" height="6.6" fill="#595959"/>
<rect x="924.2" y="1518.1" width="7.7" height="200.7" fill="#595959"/>
<rect x="921.1" y="1518.1" width="12.7" height="6.6" fill="#595959"/>
<rect x="1014.2" y="1593.1" width="7.7" height="19.4" fill="#595959"/>
<rect x="1012.1" y="1593.1" width="15.7" height="6.6" fill="#595959"/>
<rect x="1244.1" y="1682.1" width="7.7" height="36.7" fill="#595959"/>
<rect x="1238.1" y="1682.1" width="16.7" height="6.6" fill="#595959"/>
<rect x="1334.1" y="1884.1" width="7.7" height="132.2" fill="#595959"/>
<rect x="1328.1" y="1884.1" width="16.7" height="6.6" fill="#595959"/>
<rect x="1561.2" y="1524.1" width="6.7" height="20.5" fill="#595959"/>
<rect x="1558.1" y="1524.1" width="12.7" height="6.6" fill="#595959"/>
<rect x="1651.2" y="1434.1" width="6.7" height="327.3" fill="#595959"/>
<rect x="1648.1" y="1434.1" width="12.7" height="6.6" fill="#595959"/>
<rect x="496.5" y="1394.7" width="1273.0" height="924.8" fill="none" stroke="#000" stroke-width="6.6"/>
<rect x="499.8" y="1504.8" width="15.0" height="7.0" fill="#000"/>
<rect x="499.8" y="1619.7" width="15.0" height="7.0" fill="#000"/>
<rect x="499.8" y="1737.7" width="15.0" height="7.0" fill="#000"/>
<rect x="499.8" y="1852.7" width="15.0" height="7.0" fill="#000"/>
<rect x="499.8" y="1967.4" width="15.0" height="7.0" fill="#000"/>
<rect x="499.8" y="2083.0" width="15.0" height="7.0" fill="#000"/>
<rect x="499.8" y="2200.9" width="15.0" height="7.0" fill="#000"/>
<text x="376.5" y="1413.5" font-family="Carlito, Calibri, 'Liberation Sans', Arial, sans-serif" font-size="61.00" fill="#000" textLength="61.8" lengthAdjust="spacingAndGlyphs">40</text>
<text x="378.4" y="1527.1" font-family="Carlito, Calibri, 'Liberation Sans', Arial, sans-serif" font-size="61.00" fill="#000" textLength="61.8" lengthAdjust="spacingAndGlyphs">35</text>
<text x="376.5" y="1642.0" font-family="Carlito, Calibri, 'Liberation Sans', Arial, sans-serif" font-size="61.00" fill="#000" textLength="61.8" lengthAdjust="spacingAndGlyphs">30</text>
<text x="378.4" y="1760.0" font-family="Carlito, Calibri, 'Liberation Sans', Arial, sans-serif" font-size="61.00" fill="#000" textLength="61.8" lengthAdjust="spacingAndGlyphs">25</text>
<text x="376.5" y="1875.0" font-family="Carlito, Calibri, 'Liberation Sans', Arial, sans-serif" font-size="61.00" fill="#000" textLength="61.8" lengthAdjust="spacingAndGlyphs">20</text>
<text x="378.4" y="1989.7" font-family="Carlito, Calibri, 'Liberation Sans', Arial, sans-serif" font-size="61.00" fill="#000" textLength="61.8" lengthAdjust="spacingAndGlyphs">15</text>
<text x="376.5" y="2105.3" font-family="Carlito, Calibri, 'Liberation Sans', Arial, sans-serif" font-size="61.00" fill="#000" textLength="61.8" lengthAdjust="spacingAndGlyphs">10</text>
<text x="409.4" y="2223.2" font-family="Carlito, Calibri, 'Liberation Sans', Arial, sans-serif" font-size="61.00" fill="#000" textLength="30.9" lengthAdjust="spacingAndGlyphs">5</text>
<text x="407.4" y="2338.3" font-family="Carlito, Calibri, 'Liberation Sans', Arial, sans-serif" font-size="61.00" fill="#000" textLength="30.9" lengthAdjust="spacingAndGlyphs">0</text>
<text transform="translate(315.5 2149.1) rotate(-90)" x="0" y="0" font-family="'Liberation Sans', Arial, Helvetica, sans-serif" font-size="62.20" fill="#000" textLength="532.5" lengthAdjust="spacingAndGlyphs" xml:space="preserve">G2 phase ratio  / %</text>
<text x="472.6" y="2446.7" font-family="Carlito, Calibri, 'Liberation Sans', Arial, sans-serif" font-size="56.11" fill="#000" textLength="280.0" lengthAdjust="spacingAndGlyphs">Non-treated</text>
<text x="853.5" y="2446.7" font-family="Carlito, Calibri, 'Liberation Sans', Arial, sans-serif" font-size="55.69" fill="#000" textLength="195.7" lengthAdjust="spacingAndGlyphs">5-aza-dC</text>
<text x="1111.1" y="2446.5" font-family="Carlito, Calibri, 'Liberation Sans', Arial, sans-serif" font-size="55.82" fill="#000" textLength="313.7" lengthAdjust="spacingAndGlyphs">pDNA of TET1</text>
<text x="1465.8" y="2446.5" font-family="Carlito, Calibri, 'Liberation Sans', Arial, sans-serif" font-size="55.92" fill="#000" textLength="363.3" lengthAdjust="spacingAndGlyphs">EpC nanocarrier</text>
<rect x="1822.0" y="1623.1" width="62.9" height="59.7" fill="#000"/>
<rect x="1823.8" y="1717.8" width="62.5" height="63.3" fill="url(#hatch2)" stroke="#000" stroke-width="3.6"/>
<text x="1913.3" y="1680.0" font-family="'Liberation Sans', Arial, Helvetica, sans-serif" font-size="62.61" fill="#000" textLength="121.9" lengthAdjust="spacingAndGlyphs">48 h</text>
<text x="1899.3" y="1776.0" font-family="'Liberation Sans', Arial, Helvetica, sans-serif" font-size="60.99" fill="#000" textLength="152.6" lengthAdjust="spacingAndGlyphs">120 h</text>
</svg></body></html>
